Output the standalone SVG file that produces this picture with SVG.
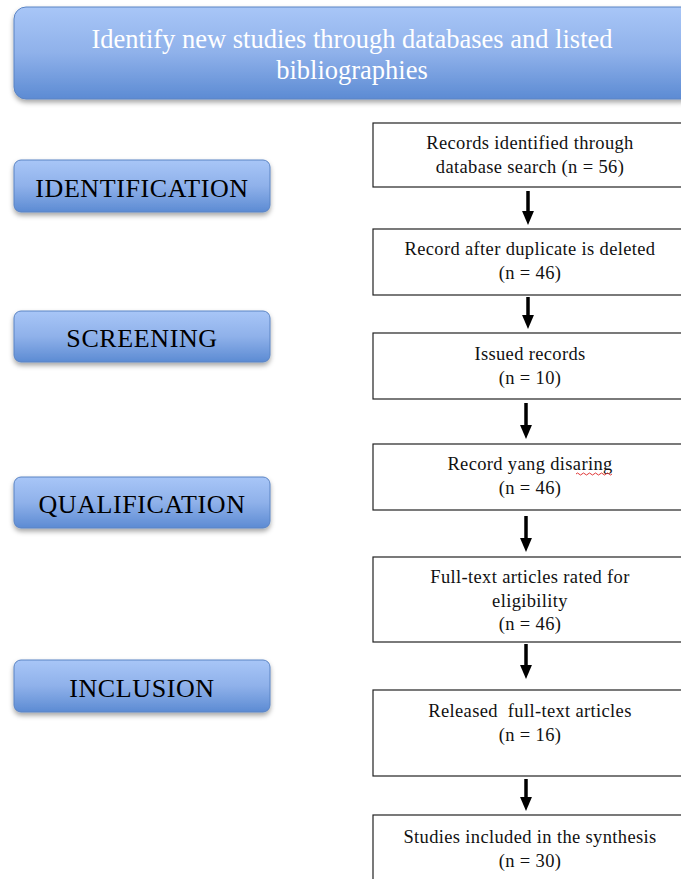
<svg xmlns="http://www.w3.org/2000/svg" width="681" height="879" viewBox="0 0 681 879">
<style>
.lbl{font-family:"Liberation Serif","Times New Roman",serif;font-size:26px;letter-spacing:0.6px;fill:#000;text-anchor:middle}
.ban{font-family:"Liberation Serif","Times New Roman",serif;font-size:26.5px;fill:#fff;text-anchor:middle}
.bt{font-family:"Liberation Serif","Times New Roman",serif;font-size:18.5px;letter-spacing:0.35px;fill:#111;text-anchor:middle}
.box{fill:#fff;stroke:#222;stroke-width:1.2}
.blue{fill:url(#g);stroke:#5b84c4;stroke-width:1;filter:url(#sh)}
.arr{stroke:#000;stroke-width:3.5;fill:none;marker-end:url(#ah)}
</style>
<defs>
<linearGradient id="g" x1="0" y1="0" x2="0" y2="1">
<stop offset="0" stop-color="#a8c6f7"/>
<stop offset="0.5" stop-color="#8fb1ea"/>
<stop offset="1" stop-color="#5c8bd3"/>
</linearGradient>
<filter id="sh" x="-10%" y="-20%" width="120%" height="150%">
<feDropShadow dx="0" dy="3" stdDeviation="2.5" flood-color="#000" flood-opacity="0.35"/>
</filter>
<marker id="ah" markerWidth="4" markerHeight="4" refX="2" refY="2" orient="auto" markerUnits="strokeWidth">
<path d="M0,0.3 L4,2 L0,3.7 Z" fill="#000"/>
</marker>
</defs>
<rect width="681" height="879" fill="#fff"/>
<g id="banner">
<rect class="blue" x="14" y="7" width="680" height="92" rx="12"/>
<text class="ban" x="352" y="48">Identify new studies through databases and listed</text>
<text class="ban" x="352" y="79">bibliographies</text>
</g>
<g id="identification">
<rect class="blue" x="14" y="160" width="256" height="52" rx="7"/>
<text class="lbl" x="142" y="197">IDENTIFICATION</text>
</g>
<g id="screening">
<rect class="blue" x="14" y="311" width="256" height="51" rx="7"/>
<text class="lbl" x="142" y="347">SCREENING</text>
</g>
<g id="qualification">
<rect class="blue" x="14" y="477" width="256" height="51" rx="7"/>
<text class="lbl" x="142" y="513">QUALIFICATION</text>
</g>
<g id="inclusion">
<rect class="blue" x="14" y="660" width="256" height="52" rx="7"/>
<text class="lbl" x="142" y="697">INCLUSION</text>
</g>
<g id="box1">
<rect class="box" x="373" y="123" width="320" height="64"/>
<text class="bt" x="530" y="149">Records identified through</text>
<text class="bt" x="530" y="173">database  search (n = 56)</text>
</g>
<g id="box2">
<rect class="box" x="373" y="229" width="320" height="66"/>
<text class="bt" x="530" y="255">Record after duplicate is deleted</text>
<text class="bt" x="530" y="279">(n = 46)</text>
</g>
<g id="box3">
<rect class="box" x="373" y="333" width="320" height="66"/>
<text class="bt" x="530" y="360">Issued records</text>
<text class="bt" x="530" y="384">(n = 10)</text>
</g>
<g id="box4">
<rect class="box" x="373" y="444" width="320" height="66"/>
<text class="bt" x="530" y="470">Record yang disaring</text>
<text class="bt" x="530" y="494">(n = 46)</text>
<path d="M576,474 q1.5,-2 3,0 t3,0 t3,0 t3,0 t3,0 t3,0 t3,0 t3,0 t3,0 t3,0 t3,0 t3,0" fill="none" stroke="#d22" stroke-width="0.9"/>
</g>
<g id="box5">
<rect class="box" x="373" y="557" width="320" height="85"/>
<text class="bt" x="530" y="583">Full-text articles rated for</text>
<text class="bt" x="530" y="607">eligibility</text>
<text class="bt" x="530" y="630">(n = 46)</text>
</g>
<g id="box6">
<rect class="box" x="373" y="690" width="320" height="86"/>
<text class="bt" x="530" y="717" xml:space="preserve">Released  full-text articles</text>
<text class="bt" x="530" y="741">(n = 16)</text>
</g>
<g id="box7">
<rect class="box" x="373" y="815" width="320" height="80"/>
<text class="bt" x="530" y="843">Studies included in the synthesis</text>
<text class="bt" x="530" y="867">(n = 30)</text>
</g>
<g id="connectors">
<line class="arr" x1="528" y1="191" x2="528" y2="218"/>
<line class="arr" x1="528" y1="297" x2="528" y2="322"/>
<line class="arr" x1="526" y1="403" x2="526" y2="432"/>
<line class="arr" x1="526" y1="516" x2="526" y2="545"/>
<line class="arr" x1="526" y1="644" x2="526" y2="672"/>
<line class="arr" x1="526" y1="779" x2="526" y2="804"/>
</g>
</svg>
